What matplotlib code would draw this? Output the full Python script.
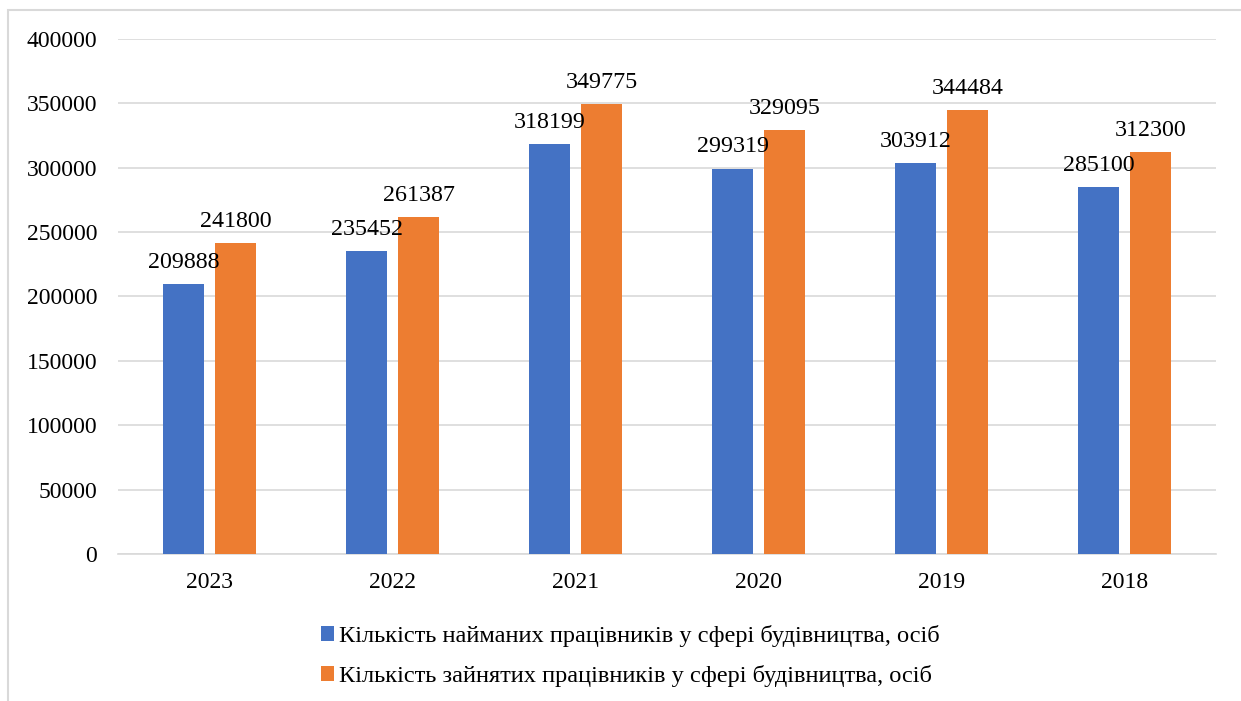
import matplotlib.pyplot as plt
import matplotlib.patches as mpatches
import numpy as np

plt.rcParams['font.family'] = ['Liberation Serif', 'DejaVu Serif']

# дані
years = ["2023", "2022", "2021", "2020", "2019", "2018"]
hired = [209888, 235452, 318199, 299319, 303912, 285100]
employed = [241800, 261387, 349775, 329095, 344484, 312300]
label_hired = "Кількість найманих працівників у сфері будівництва, осіб"
label_employed = "Кількість зайнятих працівників у сфері будівництва, осіб"

fig = plt.figure(figsize=(12.41, 7.01), dpi=100)
ax = fig.add_axes([0.0951, 0.2097, 0.8848, 0.7347])

x = np.arange(len(years))
w = 0.224
off = 0.142
b1 = ax.bar(x - off, hired, width=w, color='#4472C4', label=label_hired, zorder=3)
b2 = ax.bar(x + off, employed, width=w, color='#ED7D31', label=label_employed, zorder=3)

# підписи значень
for bars, vals in ((b1, hired), (b2, employed)):
    for r, v in zip(bars, vals):
        ax.annotate(str(v), (r.get_x() + r.get_width() / 2, v),
                    xytext=(0, 8), textcoords='offset points',
                    ha='center', va='bottom', fontsize=17.3, zorder=4)

ax.set_xlim(-0.5, len(years) - 0.5)
ax.set_ylim(0, 400000)
ax.set_yticks(np.arange(0, 400001, 50000))
ax.set_xticks(x)
ax.set_xticklabels(years)
ax.tick_params(axis='both', length=0, labelsize=17)
ax.tick_params(axis='y', pad=15)
ax.tick_params(axis='x', pad=13)
ax.grid(axis='y', color='#d9d9d9', linewidth=1.2, zorder=0)
for s in ['top', 'right', 'left']:
    ax.spines[s].set_visible(False)
ax.spines['bottom'].set_color('#d9d9d9')
ax.spines['bottom'].set_linewidth(1.2)

fig.legend(loc='center', bbox_to_anchor=(0.508, 0.064), ncol=1, frameon=False,
           fontsize=17.6, handlelength=0.55, handleheight=0.55, handletextpad=0.2,
           labelspacing=0.72)

# рамка діаграми
fig.patches.append(mpatches.Rectangle((8 / 1241, -0.1), 1.2, 1.1 - 10 / 701,
                                      transform=fig.transFigure, fill=False,
                                      edgecolor='#d9d9d9', linewidth=1.5))

fig.savefig('out.png', dpi=100)
